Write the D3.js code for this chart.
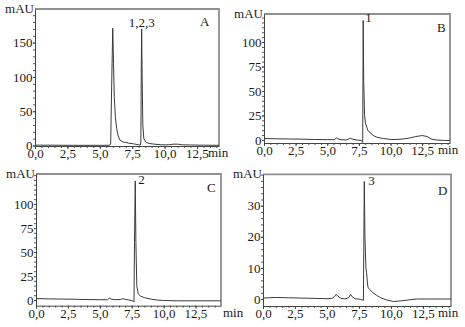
<!DOCTYPE html>
<html>
<head>
<meta charset="utf-8">
<script src="https://cdn.jsdelivr.net/npm/d3@7"></script>
<style>
  body { margin: 0; background: #fff; }
  text { font-family: "Liberation Serif", "DejaVu Serif", serif; fill: #1a1a1a; }
</style>
</head>
<body>
<svg id="chart" width="465" height="327"></svg>
<script>
// Dữ liệu sắc ký đồ (thời gian min, mAU)
const traceA = [[0,0.5],[1,0.5],[3,0.3],[5,0.3],[5.7,0.3],[5.84,2],[5.92,90],[6.0,171],[6.06,120],[6.12,70],
  [6.2,42],[6.3,25],[6.42,14],[6.55,8],[6.8,5],[7.0,4.5],[7.2,3.5],[7.6,2.5],[8.0,1],[8.12,0.5],[8.17,5],
  [8.2,110],[8.23,170],[8.27,100],[8.32,30],[8.4,10],[8.55,5],[8.8,3],[9.2,2],[9.8,1],[10.3,1],[10.7,2],
  [11.0,2],[11.4,1],[12,0.8],[13,0.5],[14.2,0.3]];
const traceB = [[0,1.5],[1,1.2],[2,1],[3,0.8],[4,0.5],[5,0.3],[5.55,0.3],[5.72,2],[5.85,1],[6.1,0.3],[6.5,0],
  [6.7,1],[6.8,2],[6.95,1],[7.3,0],[7.7,-0.5],[7.8,-2.5],[7.82,60],[7.84,122],[7.88,60],[7.95,25],[8.02,17],
  [8.2,10],[8.41,7],[8.7,4],[9.0,2.5],[9.43,1.5],[10,0.5],[10.5,0.5],[11,1],[11.5,2],[12.0,3.5],[12.5,4.5],
  [12.9,3.5],[13.2,1],[13.6,0],[14.2,-0.5],[14.7,-0.5]];
const traceC = [[0,1.5],[1,1.2],[2,1],[3,0.8],[4,0.5],[5,0.3],[5.6,0.3],[5.74,2],[5.9,1],[6.2,0.3],[6.6,0.5],
  [6.8,1.5],[6.95,0.8],[7.3,0],[7.6,-1],[7.68,-2],[7.72,60],[7.78,124],[7.83,60],[7.9,15],[8.0,7],[8.04,6],
  [8.2,4],[8.5,2.5],[9,1],[9.5,0],[10,-0.5],[11,-0.8],[12,-0.8],[13,-0.8],[14.5,-0.8]];
const traceD = [[0,0.3],[0.5,0.4],[1,0.5],[2,0.4],[3,0.3],[4,0.2],[5,0.1],[5.4,0.2],[5.6,0.8],[5.72,1.5],
  [5.85,0.9],[6.1,0.2],[6.4,0],[6.7,0.4],[6.85,1.5],[6.95,0.8],[7.2,0.1],[7.6,-0.1],[7.85,-0.4],[7.88,15],
  [7.92,37.8],[7.97,20],[8.05,10],[8.1,8.4],[8.18,4.5],[8.23,3.6],[8.35,3],[8.6,2],[8.88,1.2],[9.2,0.4],
  [9.66,-0.3],[10.2,-0.8],[10.8,-0.6],[11.4,-0.3],[12,0],[13,0],[14.7,0]];

const panelNames = ["A", "B", "C", "D"];
const traces = [traceA, traceB, traceC, traceD];
const peakLabels = ["1,2,3", "1", "2", "3"];
const xTicks = [0, 2.5, 5, 7.5, 10, 12.5];
const yTicksA = [0, 50, 100, 150];
const yTicksB = [0, 25, 50, 75, 100];
const yTicksC = [0, 25, 50, 75, 100];
const yTicksD = [0, 10, 20, 30];
const yTicks = [yTicksA, yTicksB, yTicksC, yTicksD];

// Bố cục từng ô (pixel)
const layout = [
  {x0: 35,  x1: 219, y0: 9,     y1: 146,   xMax: 14.2, yMin: -0.7, yMax: 199,   yMinor: 10, minDx: -11, letterDx: -19, letterDy: 17, pk: {anchor: "middle", dx: 0, dy: -2}},
  {x0: 264, x1: 450, y0: 14,    y1: 143,   xMax: 14.7, yMin: -3.1, yMax: 128.6, yMinor: 5,  minDx: -12, letterDx: -13, letterDy: 18, pk: {anchor: "start", dx: 2, dy: 2}},
  {x0: 36,  x1: 221, y0: 174,   y1: 305.7, xMax: 14.5, yMin: -5.9, yMax: 131.2, yMinor: 5,  minDx: 2,   letterDx: -14, letterDy: 18, pk: {anchor: "start", dx: 3, dy: 3}},
  {x0: 263, x1: 451, y0: 174.3, y1: 306,   xMax: 14.7, yMin: -2.25, yMax: 40.1, yMinor: 2,  minDx: -13, letterDx: -13, letterDy: 21, pk: {anchor: "start", dx: 4, dy: 4}}
];

const svg = d3.select("#chart");
const locale = d3.formatLocale({decimal: ",", thousands: ".", grouping: [3], currency: ["", ""]});
const fmtX = locale.format(".1f");

panelNames.forEach((name, i) => {
  const L = layout[i];
  const data = traces[i];
  const g = svg.append("g");

  const x = d3.scaleLinear().domain([0, L.xMax]).range([L.x0, L.x1]);
  const y = d3.scaleLinear().domain([L.yMin, L.yMax]).range([L.y1, L.y0]);

  // Khung trên và phải màu xám
  g.append("path")
    .attr("d", `M${L.x0},${L.y0}H${L.x1}V${L.y1}`)
    .attr("fill", "none")
    .attr("stroke", "#8f8f8f")
    .attr("stroke-width", 1.8);

  // Vạch phụ
  g.append("g")
    .attr("transform", `translate(0,${L.y1})`)
    .call(d3.axisBottom(x).tickValues(d3.range(0, L.xMax, 0.5)).tickSize(2).tickFormat(""))
    .call(a => a.select(".domain").remove())
    .selectAll("line").attr("stroke", "#555");
  g.append("g")
    .attr("transform", `translate(${L.x0},0)`)
    .call(d3.axisLeft(y).tickValues(d3.range(0, L.yMax, L.yMinor)).tickSize(2).tickFormat(""))
    .call(a => a.select(".domain").remove())
    .selectAll("line").attr("stroke", "#555");

  // Trục X
  const gx = g.append("g")
    .attr("transform", `translate(0,${L.y1})`)
    .call(d3.axisBottom(x).tickValues(xTicks).tickSize(3).tickPadding(0).tickFormat(fmtX).tickSizeOuter(0));
  gx.select(".domain").attr("stroke", "#444");
  gx.selectAll("line").attr("stroke", "#444");
  gx.selectAll("text").attr("font-size", 13).style("font-family", "Liberation Serif").attr("fill", "#1a1a1a");

  // Trục Y
  const gy = g.append("g")
    .attr("transform", `translate(${L.x0},0)`)
    .call(d3.axisLeft(y).tickValues(yTicks[i]).tickSize(2).tickPadding(0.5).tickSizeOuter(0));
  gy.select(".domain").attr("stroke", "#444");
  gy.selectAll("line").attr("stroke", "#444");
  gy.selectAll("text").attr("font-size", 13).style("font-family", "Liberation Serif").attr("fill", "#1a1a1a");

  // Đường sắc ký
  g.append("path")
    .datum(data)
    .attr("fill", "none")
    .attr("stroke", "#3a3a3a")
    .attr("stroke-width", 1)
    .attr("stroke-linejoin", "round")
    .attr("d", d3.line().x(d => x(d[0])).y(d => y(d[1])));

  // Nhãn
  g.append("text")
    .attr("x", L.x0 - 1).attr("y", L.y0 + 3.5)
    .attr("text-anchor", "end").attr("font-size", 13)
    .text("mAU");
  g.append("text")
    .attr("x", L.x1 + L.minDx).attr("y", L.y1 + 11)
    .attr("font-size", 13)
    .text("min");
  g.append("text")
    .attr("x", L.x1 + L.letterDx).attr("y", L.y0 + L.letterDy)
    .attr("font-size", 13)
    .text(name);

  const peak = d3.greatest(data.filter(d => d[0] > 7), d => d[1]);
  g.append("text")
    .attr("x", x(peak[0]) + L.pk.dx).attr("y", y(peak[1]) + L.pk.dy)
    .attr("text-anchor", L.pk.anchor).attr("font-size", 13)
    .text(peakLabels[i]);
});
</script>
</body>
</html>
